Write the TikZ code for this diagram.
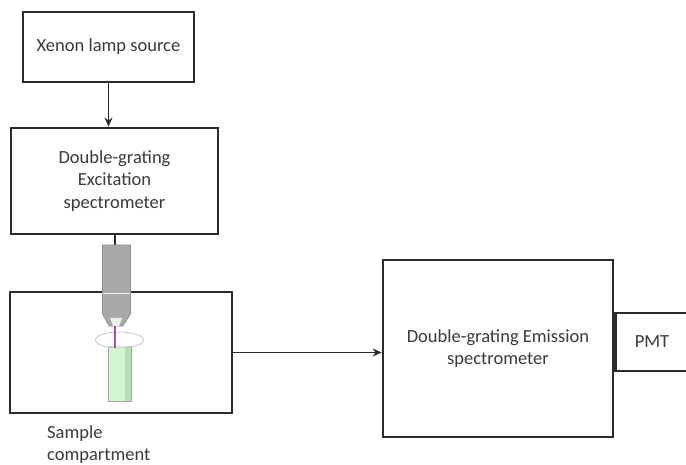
\documentclass[tikz,border=0pt]{standalone}
\usepackage{fontspec}
\setmainfont{Carlito}
\usetikzlibrary{arrows.meta}
\definecolor{edge}{HTML}{2B2B2B}
\definecolor{ink}{HTML}{3A3A3A}
\definecolor{objgray}{HTML}{A9A9A9}
\definecolor{objedge}{HTML}{8E8E8E}
\definecolor{tubegreen}{HTML}{D2F5D2}
\definecolor{tubeshade}{HTML}{B9DDB9}
\definecolor{beam}{HTML}{9B2FA0}
\tikzset{
  blockbox/.style={draw=edge, line width=2.8pt, fill=white, align=center,
    text=ink, font=\fontsize{18.5}{22.5}\selectfont, inner sep=0pt},
  flow/.style={draw=edge, line width=1.1pt, -{Stealth[length=9pt,width=8pt]}},
  caption/.style={text=ink, font=\fontsize{18.5}{22.5}\selectfont, align=left, inner sep=0pt}
}
\begin{document}
\begin{tikzpicture}[x=1pt, y=-1pt]
  \useasboundingbox (0,0) rectangle (686,465);
  \clip (0,0) rectangle (686,465);

  % light source and excitation monochromator
  \node[blockbox, minimum width=171pt, minimum height=70pt] (xenon) at (108.5,47) {Xenon lamp source};
  \node[blockbox, minimum width=207pt, minimum height=106pt] (excit) at (114.5,181)
    {Double-grating\\Excitation\\spectrometer};
  \draw[flow] (xenon.south) -- (xenon.south |- excit.north);

  % sample compartment
  \node[blockbox, minimum width=222pt, minimum height=121pt] (sample) at (121,352.5) {};
  \node[caption, anchor=north west] (samplelabel) at (47,425) {Sample\\compartment};

  % coupling stem and objective
  \coordinate (stemtop) at (115,234);
  \coordinate (stembot) at (115,245);
  \draw[edge, line width=1.3pt] (stemtop) -- (stembot);
  \filldraw[fill=objgray, draw=objedge, line width=0.6pt]
    (102.5,245) -- (130.5,245) -- (130.5,314) -- (123,326) -- (109,326) -- (102.5,314) -- cycle;
  \fill[white!80!objgray] (110,318) -- (122,318) -- (119,326) -- (113,326) -- cycle;
  \draw[white!85!objgray, line width=0.8pt] (103,293.5) -- (130,293.5);

  % cuvette with sample
  \filldraw[fill=tubegreen, draw=objedge!80, line width=0.7pt] (108,346) rectangle (131,401);
  \fill[tubeshade] (125,347) rectangle (130.5,400.5);
  \draw[objedge!80, line width=0.7pt] (108,346) rectangle (131,401);
  \draw[gray!55, line width=0.6pt, fill=white, fill opacity=0.6] (119.5,340) ellipse [x radius=24, y radius=8];
  \draw[beam, line width=1.8pt, opacity=0.85] (115,326) -- (115,348);

  % emission side
  \node[blockbox, minimum width=230pt, minimum height=177pt] (emis) at (498,348.5)
    {Double-grating Emission\\spectrometer};
  \node[blockbox, minimum width=80pt, minimum height=58pt, anchor=west] (pmt) at (emis.east |- 0,342) {};
  \node[text=ink, font=\fontsize{18.5}{22.5}\selectfont] (pmtlabel) at (652,342) {PMT};
  \draw[flow] (sample.east) -- (sample.east -| emis.west);
\end{tikzpicture}
\end{document}
